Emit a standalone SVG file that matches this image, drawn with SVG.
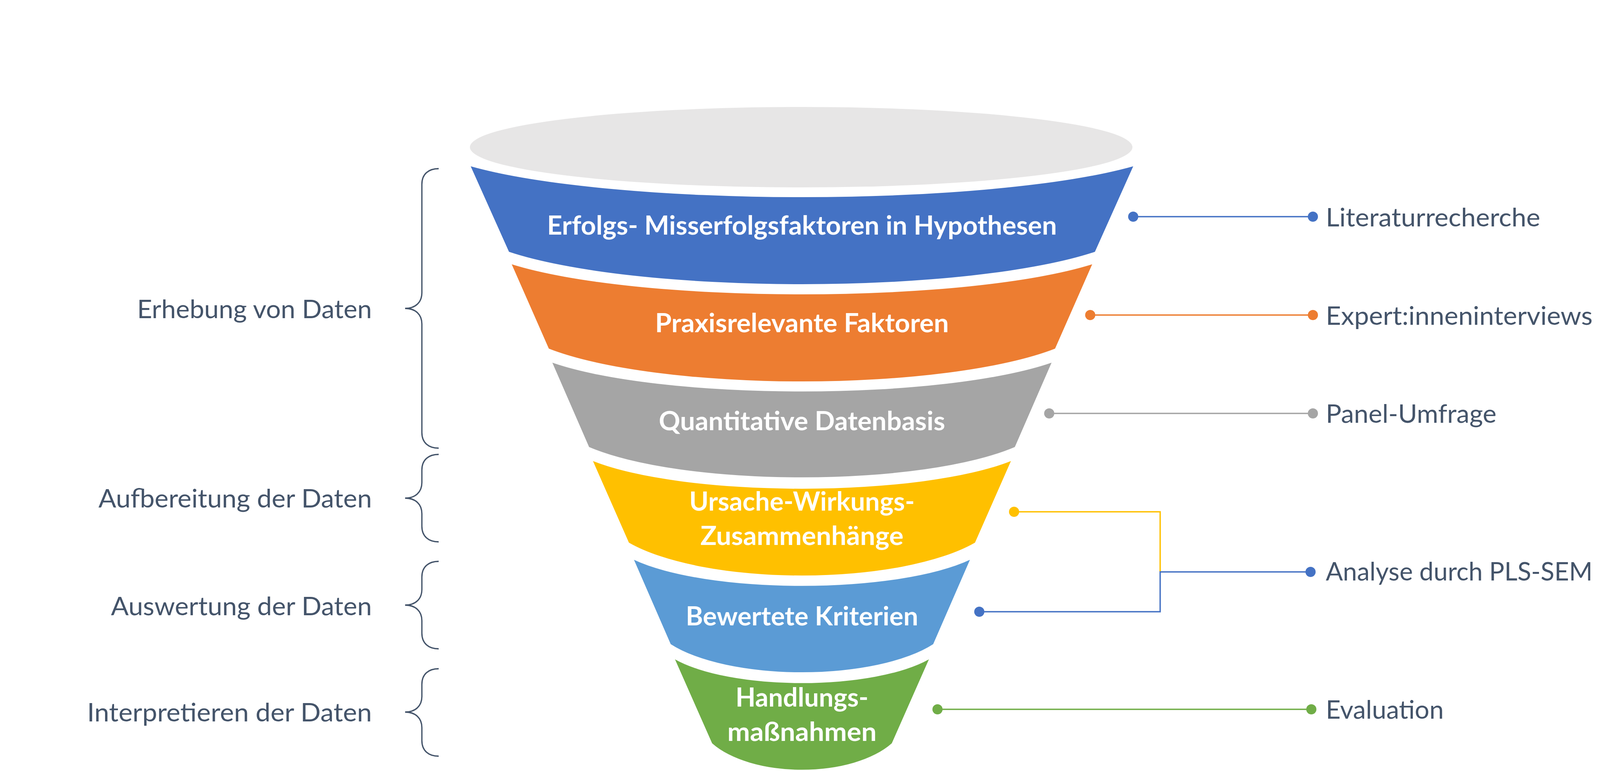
<svg xmlns="http://www.w3.org/2000/svg" width="4702" height="1975" viewBox="0 0 4702 1975">
<style>
.band-label{font-family:Lato,"Liberation Sans",sans-serif;font-weight:700;font-size:66px;fill:#FFFFFF;text-anchor:middle}
.side{font-family:Lato,"Liberation Sans",sans-serif;font-weight:400;font-size:66px;fill:#44546A}
.left{text-anchor:end}
.brace{fill:none;stroke:#44546A;stroke-width:3.3}
.conn{fill:none;stroke-width:3.5}
</style>
<rect x="0" y="0" width="4702" height="1975" fill="#FFFFFF"/>
<g id="funnel-top">
<ellipse cx="2051" cy="377" rx="848" ry="103" fill="#E7E6E6"/>
</g>
<g id="band-1">
<path d="M1205,426 A975,156 0 0 0 2901,426 L2803,645 A862.5,164 0 0 1 1303,645 Z" fill="#4472C4"/>
<text class="band-label" x="2053" y="601" textLength="1305" lengthAdjust="spacingAndGlyphs">Erfolgs- Misserfolgsfaktoren in Hypothesen</text>
</g>
<g id="band-2">
<path d="M1310,677 A854,152 0 0 0 2796,677 L2701,893 A745,166 0 0 1 1405,893 Z" fill="#ED7D31"/>
<text class="band-label" x="2053" y="851" textLength="752" lengthAdjust="spacingAndGlyphs">Praxisrelevante Faktoren</text>
</g>
<g id="band-3">
<path d="M1414,929 A735,146 0 0 0 2692,929 L2598,1145 A627,154 0 0 1 1508,1145 Z" fill="#A5A5A5"/>
<text class="band-label" x="2053" y="1102" textLength="733" lengthAdjust="spacingAndGlyphs">Quantitative Datenbasis</text>
</g>
<g id="band-4">
<path d="M1518,1181 A615,140 0 0 0 2588,1181 L2496,1390 A509,166 0 0 1 1610,1390 Z" fill="#FFC000"/>
<text class="band-label" x="2053" y="1308" textLength="577" lengthAdjust="spacingAndGlyphs">Ursache-Wirkungs-</text>
<text class="band-label" x="2053" y="1396" textLength="520" lengthAdjust="spacingAndGlyphs">Zusammenhänge</text>
</g>
<g id="band-5">
<path d="M1623,1434 A494.5,132 0 0 0 2483,1434 L2389,1650 A386,142 0 0 1 1717,1650 Z" fill="#5B9BD5"/>
<text class="band-label" x="2053" y="1602" textLength="595" lengthAdjust="spacingAndGlyphs">Bewertete Kriterien</text>
</g>
<g id="band-6">
<path d="M1728,1689 A374,120.5 0 0 0 2378,1689 L2283,1904 A264.5,134 0 0 1 1823,1904 Z" fill="#70AD47"/>
<text class="band-label" x="2053" y="1810" textLength="340" lengthAdjust="spacingAndGlyphs">Handlungs-</text>
<text class="band-label" x="2053" y="1898" textLength="382" lengthAdjust="spacingAndGlyphs">maßnahmen</text>
</g>
<g id="phase-1">
<path class="brace" d="M1123,432 C1097,432 1080,446 1080,472 L1080,750 C1080,774 1064,790 1037,790 C1064,790 1080,806 1080,830 L1080,1108 C1080,1134 1097,1148 1123,1148"/>
<text class="side left" x="952" y="815" textLength="601" lengthAdjust="spacingAndGlyphs">Erhebung von Daten</text>
</g>
<g id="phase-2">
<path class="brace" d="M1123,1164 C1097,1164 1080,1178 1080,1204 L1080,1236 C1080,1260 1064,1276 1037,1276 C1064,1276 1080,1292 1080,1316 L1080,1348 C1080,1374 1097,1388 1123,1388"/>
<text class="side left" x="952" y="1300" textLength="700" lengthAdjust="spacingAndGlyphs">Aufbereitung der Daten</text>
</g>
<g id="phase-3">
<path class="brace" d="M1123,1438 C1097,1438 1080,1452 1080,1478 L1080,1510 C1080,1534 1064,1550 1037,1550 C1064,1550 1080,1566 1080,1590 L1080,1622 C1080,1648 1097,1662 1123,1662"/>
<text class="side left" x="952" y="1576" textLength="668" lengthAdjust="spacingAndGlyphs">Auswertung der Daten</text>
</g>
<g id="phase-4">
<path class="brace" d="M1123,1713 C1097,1713 1080,1727 1080,1753 L1080,1784 C1080,1808 1064,1824 1037,1824 C1064,1824 1080,1840 1080,1864 L1080,1897 C1080,1923 1097,1937 1123,1937"/>
<text class="side left" x="952" y="1848" textLength="729" lengthAdjust="spacingAndGlyphs">Interpretieren der Daten</text>
</g>
<g id="connectors">
<path class="conn" stroke="#4472C4" d="M2901,555 H3361"/>
<circle cx="2901" cy="555" r="13" fill="#4472C4"/>
<circle cx="3361" cy="555" r="13" fill="#4472C4"/>
<path class="conn" stroke="#ED7D31" d="M2791,807 H3361"/>
<circle cx="2791" cy="807" r="13" fill="#ED7D31"/>
<circle cx="3361" cy="807" r="13" fill="#ED7D31"/>
<path class="conn" stroke="#A5A5A5" d="M2686,1059 H3361"/>
<circle cx="2686" cy="1059" r="13" fill="#A5A5A5"/>
<circle cx="3361" cy="1059" r="13" fill="#A5A5A5"/>
<path class="conn" stroke="#FFC000" stroke-width="3" d="M2596,1311 H2970 V1465"/>
<circle cx="2596" cy="1311" r="13" fill="#FFC000"/>
<path class="conn" stroke="#4472C4" d="M2507,1567 H2970 V1465 H3355"/>
<circle cx="2507" cy="1567" r="13" fill="#4472C4"/>
<circle cx="3355" cy="1465" r="13" fill="#4472C4"/>
<path class="conn" stroke="#70AD47" d="M2400,1817 H3357"/>
<circle cx="2400" cy="1817" r="13" fill="#70AD47"/>
<circle cx="3357" cy="1817" r="13" fill="#70AD47"/>
</g>
<g id="methods">
<text class="side" x="3394" y="580" textLength="549" lengthAdjust="spacingAndGlyphs">Literaturrecherche</text>
<text class="side" x="3394" y="832" textLength="683" lengthAdjust="spacingAndGlyphs">Expert:inneninterviews</text>
<text class="side" x="3394" y="1083" textLength="437" lengthAdjust="spacingAndGlyphs">Panel-Umfrage</text>
<text class="side" x="3394" y="1487" textLength="683" lengthAdjust="spacingAndGlyphs">Analyse durch PLS-SEM</text>
<text class="side" x="3394" y="1841" textLength="302" lengthAdjust="spacingAndGlyphs">Evaluation</text>
</g>
</svg>
